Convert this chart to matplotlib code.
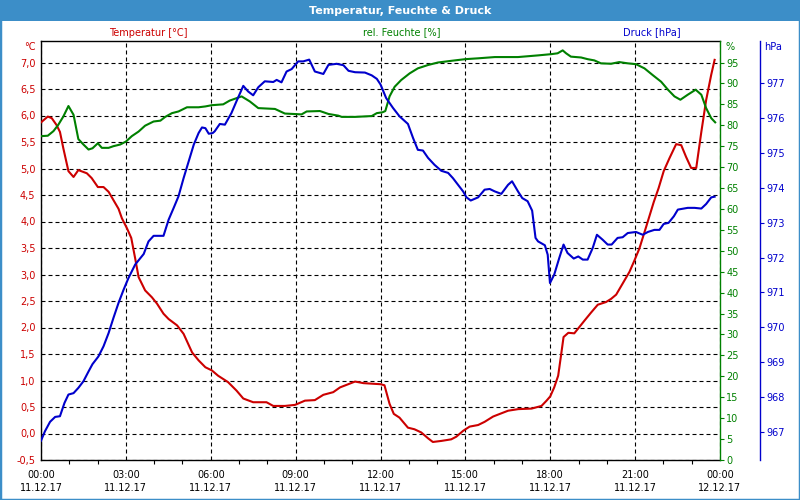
import matplotlib
matplotlib.use('Agg')
import matplotlib.pyplot as plt
from matplotlib.ticker import FixedLocator, FixedFormatter, MultipleLocator
import matplotlib.patches as mpatches

# ---------------- data (hours since 11.12.17 00:00) ----------------
temp_t = [0.0, 0.24, 0.38, 0.55, 0.67, 0.79, 0.97, 1.15, 1.32, 1.62, 1.79, 2.01, 2.21, 2.39, 2.74, 2.86,
          3.04, 3.19, 3.33, 3.45, 3.68, 3.92, 4.10, 4.33, 4.51, 4.81, 5.04, 5.34, 5.57, 5.81, 6.04, 6.26,
          6.61, 6.91, 7.15, 7.50, 7.97, 8.21, 8.62, 8.98, 9.33, 9.68, 9.98, 10.33, 10.57, 10.86, 11.10,
          11.40, 12.0, 12.14, 12.32, 12.47, 12.67, 12.97, 13.20, 13.44, 13.68, 13.85, 14.15, 14.50, 14.68,
          14.92, 15.15, 15.45, 15.68, 15.98, 16.22, 16.51, 16.87, 17.34, 17.69, 17.87, 18.0, 18.14, 18.28,
          18.38, 18.47, 18.64, 18.85, 19.03, 19.21, 19.44, 19.68, 19.97, 20.15, 20.33, 20.56, 20.80, 20.98,
          21.15, 21.39, 21.66, 21.83, 22.01, 22.21, 22.45, 22.63, 22.80, 22.98, 23.16, 23.34, 23.51, 23.69,
          23.81]
temp_v = [5.87, 5.98, 5.95, 5.82, 5.69, 5.38, 4.95, 4.84, 4.97, 4.91, 4.82, 4.65, 4.65, 4.56, 4.24, 4.06,
          3.87, 3.69, 3.30, 2.95, 2.70, 2.57, 2.45, 2.26, 2.16, 2.04, 1.88, 1.53, 1.38, 1.25, 1.19, 1.09,
          0.97, 0.81, 0.66, 0.59, 0.59, 0.52, 0.52, 0.54, 0.62, 0.63, 0.73, 0.78, 0.87, 0.93, 0.98,
          0.95, 0.93, 0.91, 0.56, 0.37, 0.30, 0.11, 0.08, 0.02, -0.09, -0.16, -0.14, -0.11, -0.06,
          0.05, 0.13, 0.16, 0.22, 0.32, 0.37, 0.43, 0.46, 0.47, 0.52, 0.62, 0.70, 0.87, 1.09,
          1.47, 1.82, 1.90, 1.89, 2.01, 2.13, 2.28, 2.43, 2.48, 2.54, 2.62, 2.83, 3.05, 3.27,
          3.49, 3.90, 4.37, 4.63, 4.95, 5.19, 5.46, 5.44, 5.22, 5.01, 5.01, 5.69, 6.29, 6.77,
          7.05]

hum_t = [0.0, 0.24, 0.44, 0.61, 0.79, 0.97, 1.15, 1.32, 1.50, 1.68, 1.82, 2.01, 2.15, 2.39, 2.56, 2.80,
         3.0, 3.21, 3.45, 3.68, 3.98, 4.22, 4.39, 4.63, 4.86, 5.16, 5.57, 5.81, 6.04, 6.44, 6.67, 7.09,
         7.38, 7.68, 8.27, 8.62, 9.21, 9.39, 9.86, 10.16, 10.51, 10.63, 11.10, 11.69, 11.87, 12.07, 12.17,
         12.32, 12.50, 12.73, 13.03, 13.32, 13.68, 14.03, 14.50, 15.0, 15.45, 16.04, 16.86, 17.57, 18.04,
         18.26, 18.44, 18.56, 18.73, 19.09, 19.32, 19.56, 19.79, 20.15, 20.44, 20.74, 21.03, 21.33, 21.62,
         21.92, 22.16, 22.39, 22.60, 22.86, 23.14, 23.34, 23.51, 23.69, 23.83]
hum_v = [77.4, 77.5, 78.6, 80.1, 82.1, 84.6, 82.5, 76.7, 75.4, 74.2, 74.5, 75.7, 74.6, 74.6, 75.0, 75.4,
         76.1, 77.4, 78.5, 79.9, 80.9, 81.1, 82.0, 82.9, 83.3, 84.3, 84.3, 84.5, 84.8, 85.0, 85.9, 86.9,
         85.7, 84.1, 83.9, 82.8, 82.6, 83.3, 83.4, 82.7, 82.3, 82.0, 82.0, 82.2, 82.9, 83.1, 83.4,
         86.9, 89.2, 90.8, 92.4, 93.6, 94.4, 95.0, 95.4, 95.8, 96.0, 96.3, 96.3, 96.7, 97.0,
         97.2, 97.9, 97.2, 96.4, 96.2, 95.8, 95.5, 94.8, 94.7, 95.1, 94.8, 94.6, 93.6, 92.0,
         90.4, 88.5, 86.9, 86.1, 87.3, 88.5, 87.3, 84.1, 81.7, 80.7]

press_t = [0.0, 0.14, 0.32, 0.50, 0.67, 0.83, 0.97, 1.15, 1.32, 1.50,
           1.68, 1.82, 2.03, 2.21, 2.39, 2.56, 2.74, 2.92, 3.09, 3.33,
           3.63, 3.80, 3.98, 4.33, 4.51, 4.69, 4.86, 5.04, 5.22, 5.40,
           5.57, 5.69, 5.81, 5.93, 6.07, 6.14, 6.32, 6.50, 6.73, 6.91,
           7.15, 7.32, 7.50, 7.68, 7.91, 8.21, 8.33, 8.50, 8.68, 8.86,
           9.09, 9.27, 9.48, 9.68, 9.98, 10.16, 10.45, 10.69, 10.87, 11.10,
           11.45, 11.69, 11.87, 12.0, 12.20, 12.44, 12.67, 12.97, 13.15, 13.32,
           13.50, 13.68, 13.91, 14.15, 14.39, 14.56, 14.74, 14.92, 15.04, 15.19,
           15.45, 15.68, 15.86, 16.04, 16.27, 16.51, 16.65, 16.86, 17.01, 17.20,
           17.36, 17.48, 17.57, 17.81, 17.91, 17.99, 18.14, 18.32, 18.47, 18.61,
           18.83, 18.99, 19.15, 19.32, 19.50, 19.65, 19.85, 20.03, 20.17, 20.38,
           20.56, 20.74, 21.03, 21.27, 21.45, 21.68, 21.86, 22.01, 22.18, 22.37,
           22.51, 22.86, 23.10, 23.34, 23.51, 23.69, 23.81]
press_v = [966.76, 967.03, 967.30, 967.44, 967.46, 967.84, 968.08, 968.12, 968.27, 968.46,
           968.74, 968.95, 969.17, 969.46, 969.84, 970.27, 970.70, 971.08, 971.41, 971.80,
           972.10, 972.46, 972.62, 972.62, 973.08, 973.42, 973.75, 974.27, 974.75, 975.23,
           975.56, 975.72, 975.70, 975.54, 975.56, 975.61, 975.82, 975.80, 976.13, 976.47,
           976.91, 976.75, 976.64, 976.87, 977.04, 977.02, 977.08, 977.01, 977.32, 977.39,
           977.61, 977.61, 977.66, 977.32, 977.25, 977.51, 977.54, 977.50, 977.34, 977.30,
           977.29, 977.21, 977.11, 976.95, 976.56, 976.28, 976.04, 975.82, 975.42, 975.08,
           975.06, 974.85, 974.65, 974.48, 974.42, 974.27, 974.08, 973.89, 973.72, 973.63,
           973.72, 973.94, 973.96, 973.89, 973.82, 974.08, 974.18, 973.89, 973.70, 973.61,
           973.34, 972.56, 972.46, 972.35, 972.08, 971.27, 971.51, 971.99, 972.37, 972.13,
           971.97, 972.03, 971.94, 971.94, 972.27, 972.65, 972.51, 972.37, 972.37, 972.56,
           972.58, 972.70, 972.73, 972.65, 972.73, 972.79, 972.79, 972.96, 972.99, 973.18,
           973.37, 973.42, 973.42, 973.40, 973.53, 973.72, 973.74]

x_ticks = [0, 3, 6, 9, 12, 15, 18, 21, 24]
x_labels = ['00:00\n11.12.17', '03:00\n11.12.17', '06:00\n11.12.17', '09:00\n11.12.17',
            '12:00\n11.12.17', '15:00\n11.12.17', '18:00\n11.12.17', '21:00\n11.12.17',
            '00:00\n12.12.17']
temp_ticks = [-0.5, 0.0, 0.5, 1.0, 1.5, 2.0, 2.5, 3.0, 3.5, 4.0, 4.5, 5.0, 5.5, 6.0, 6.5, 7.0]
hum_ticks = [0, 5, 10, 15, 20, 25, 30, 35, 40, 45, 50, 55, 60, 65, 70, 75, 80, 85, 90, 95]
press_ticks = [967, 968, 969, 970, 971, 972, 973, 974, 975, 976, 977]

title = 'Temperatur, Feuchte & Druck'

# ---------------- styling ----------------
RED = '#cc0000'
GREEN = '#008000'
BLUE = '#0000cc'
BAR = '#3c8ec8'
FS = 7

plt.rcParams['font.family'] = ['DejaVu Sans']

W, H = 800, 500
fig = plt.figure(figsize=(8, 5), dpi=100, facecolor='white')

# title bar and frame
fig.patches.append(mpatches.Rectangle((0, 1 - 21 / H), 1, 21 / H, transform=fig.transFigure,
                                      facecolor=BAR, edgecolor='none', zorder=0))
fig.patches.append(mpatches.Rectangle((0, 0), 1, 1, transform=fig.transFigure,
                                      fill=False, edgecolor=BAR, linewidth=2.5, zorder=5))
fig.text(0.5, 1 - 10.5 / H, title, color='white', fontweight='bold', ha='center', va='center',
         fontsize=8)

L, R, T, B = 41, 720, 41, 460
ax = fig.add_axes([L / W, 1 - B / H, (R - L) / W, (B - T) / H])
ax.set_facecolor('white')
ax.set_xlim(0, 24)
ax.set_ylim(-0.5, 7.0 + 21.5 / 53.0)

ax2 = ax.twinx()
ax2.set_ylim(0, 95 + 21.5 / (397.5 / 95))
ax3 = ax.twinx()
ax3.set_ylim(967 - 27.7 / 34.96, 977 + 41.7 / 34.96)
ax3.spines['right'].set_position(('axes', (760 - L) / (R - L)))

# grid
dash = (0, (3.6, 2.7))
ax.grid(True, which='major', color='black', linestyle=dash, linewidth=0.8)
ax.set_axisbelow(True)

# lines
ax.plot(temp_t, temp_v, color=RED, linewidth=1.5, zorder=3)
ax2.plot(hum_t, hum_v, color=GREEN, linewidth=1.5, zorder=3)
ax3.plot(press_t, press_v, color=BLUE, linewidth=1.5, zorder=3)

# x axis
ax.xaxis.set_major_locator(FixedLocator(x_ticks))
ax.xaxis.set_major_formatter(FixedFormatter(x_labels))
ax.xaxis.set_minor_locator(MultipleLocator(1))
ax.tick_params(axis='x', which='major', length=0, pad=7, labelsize=FS, labelcolor='black')
ax.tick_params(axis='x', which='minor', length=3, width=0.8, direction='out', color='black')
for lbl in ax.get_xticklabels():
    lbl.set_linespacing(1.45)

# left axis
ax.yaxis.set_major_locator(FixedLocator(temp_ticks))
ax.yaxis.set_major_formatter(FixedFormatter([('%.1f' % v).replace('.', ',') for v in temp_ticks]))
ax.tick_params(axis='y', which='major', length=0, pad=4, labelsize=FS, labelcolor=RED)

for s in ['left', 'top', 'bottom']:
    ax.spines[s].set_color('black')
    ax.spines[s].set_linewidth(1.0)
ax.spines['right'].set_visible(False)

# humidity axis
for s in ['left', 'top', 'bottom']:
    ax2.spines[s].set_visible(False)
ax2.spines['right'].set_color(GREEN)
ax2.spines['right'].set_linewidth(1.0)
ax2.yaxis.set_major_locator(FixedLocator(hum_ticks))
ax2.yaxis.set_major_formatter(FixedFormatter([str(v) for v in hum_ticks]))
ax2.tick_params(axis='y', which='major', length=3, width=0.8, direction='out', pad=1.5,
                labelsize=FS, colors=GREEN)

# pressure axis
for s in ['left', 'top', 'bottom']:
    ax3.spines[s].set_visible(False)
ax3.spines['right'].set_color(BLUE)
ax3.spines['right'].set_linewidth(1.0)
ax3.yaxis.set_major_locator(FixedLocator(press_ticks))
ax3.yaxis.set_major_formatter(FixedFormatter([str(v) for v in press_ticks]))
ax3.tick_params(axis='y', which='major', length=3, width=0.8, direction='out', pad=1.5,
                labelsize=FS, colors=BLUE)

# header labels
fig.text(148 / W, 1 - 32.5 / H, 'Temperatur [°C]', color=RED, ha='center', va='center', fontsize=FS)
fig.text(402 / W, 1 - 32.5 / H, 'rel. Feuchte [%]', color=GREEN, ha='center', va='center', fontsize=FS)
fig.text(652 / W, 1 - 32.5 / H, 'Druck [hPa]', color=BLUE, ha='center', va='center', fontsize=FS)
fig.text(30 / W, 1 - 46.5 / H, '°C', color=RED, ha='center', va='center', fontsize=FS)
fig.text(730 / W, 1 - 46.5 / H, '%', color=GREEN, ha='center', va='center', fontsize=FS)
fig.text(773 / W, 1 - 46.5 / H, 'hPa', color=BLUE, ha='center', va='center', fontsize=FS)

fig.savefig('out.png', dpi=100, facecolor='white')
